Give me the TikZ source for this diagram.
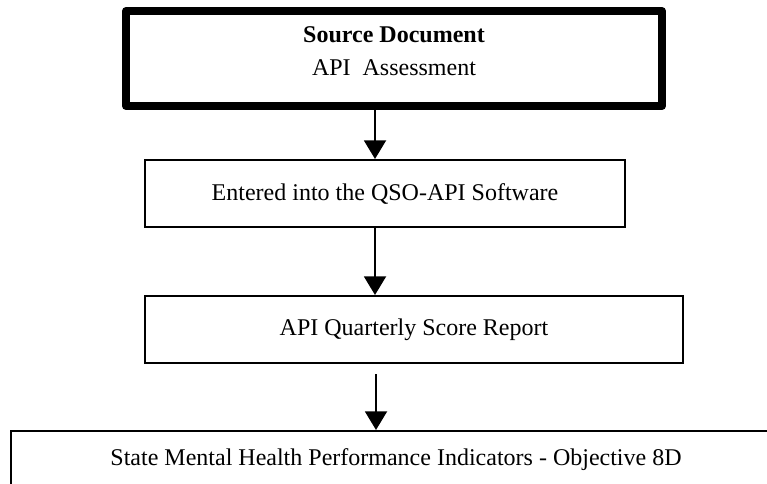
\documentclass[tikz,border=0pt]{standalone}
\usepackage{fontspec}
\setmainfont{Liberation Serif}
\usetikzlibrary{arrows.meta}
\tikzset{
  stepbox/.style={draw,line width=1.5pt,inner sep=0pt,minimum height=50.25pt,align=center},
  arr/.style={line width=1.5pt,-{Triangle[length=14pt,width=16.5pt]}}
}
\begin{document}
\begin{tikzpicture}[x=0.75pt,y=-0.75pt,font=\fontsize{18}{24.75}\selectfont]
\clip (0,0) rectangle (767,484);
\node[stepbox,line width=6pt,line join=round,minimum width=402pt,minimum height=71.25pt,text depth=11pt] (src) at (394,58.5) {\textbf{Source Document}\\API\ \ Assessment};
\node[stepbox,minimum width=360pt] (soft) at (385,193.5) {Entered into the QSO-API Software};
\node[stepbox,minimum width=403.5pt] (rep) at (414,329.5) {API Quarterly Score Report};
\node[stepbox,minimum width=577.5pt,minimum height=43.5pt] (ind) at (396,460) {State Mental Health Performance Indicators - Objective 8D};
\coordinate (ax) at (375,0);
\coordinate (a3) at (376,374);
\draw[arr] (src.south -| ax) -- (soft.north -| ax);
\draw[arr] (soft.south -| ax) -- (rep.north -| ax);
\draw[arr] (a3) -- (ind.north -| a3);
\end{tikzpicture}
\end{document}
